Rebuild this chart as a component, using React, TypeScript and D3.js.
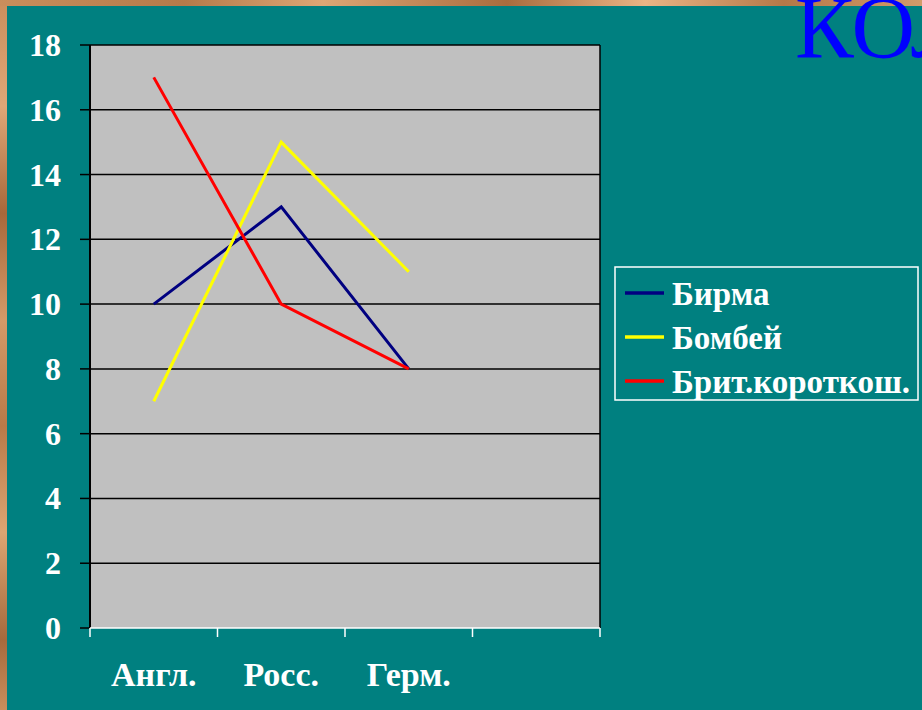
import React, { useEffect, useRef } from "react";
import * as d3 from "d3";

const categories = ["Англ.", "Росс.", "Герм.", ""];
const seriesNames = ["Бирма", "Бомбей", "Брит.короткош."];
const birma = [10, 13, 8];
const bombey = [7, 15, 11];
const brit = [17, 10, 8];
const seriesColors = ["#000080", "#FFFF00", "#FF0000"];
const yTicks = [0, 2, 4, 6, 8, 10, 12, 14, 16, 18];
const titleText = "КОЛ";

const W = 922;
const H = 710;
const FONT = "'Liberation Serif', 'Times New Roman', serif";

export default function App() {
  const ref = useRef<SVGSVGElement>(null);

  useEffect(() => {
    const svg = d3.select(ref.current);
    svg.selectAll("*").remove();

    const defs = svg.append("defs");
    const gl = defs.append("linearGradient").attr("id", "woodV").attr("x1", 0).attr("y1", 0).attr("x2", 0).attr("y2", 1);
    [["0", "#c98e5c"], ["0.15", "#e0a777"], ["0.3", "#a8683a"], ["0.45", "#d49a68"], ["0.6", "#b97a48"], ["0.75", "#dca572"], ["0.9", "#a66a3c"], ["1", "#c98e5c"]].forEach(([o, c]) =>
      gl.append("stop").attr("offset", o).attr("stop-color", c));
    const gt = defs.append("linearGradient").attr("id", "woodH").attr("x1", 0).attr("y1", 0).attr("x2", 1).attr("y2", 0);
    [["0", "#c98e5c"], ["0.2", "#b57a4a"], ["0.35", "#dda675"], ["0.55", "#a96c3e"], ["0.7", "#eab485"], ["0.85", "#b47848"], ["1", "#d29b6a"]].forEach(([o, c]) =>
      gt.append("stop").attr("offset", o).attr("stop-color", c));

    svg.append("rect").attr("width", W).attr("height", H).attr("fill", "#008080");
    svg.append("rect").attr("x", 0).attr("y", 0).attr("width", 7).attr("height", H).attr("fill", "url(#woodV)");
    svg.append("rect").attr("x", 0).attr("y", 0).attr("width", W).attr("height", 6).attr("fill", "url(#woodH)");

    const left = 90, right = 600, top = 45, bottom = 628;
    const x = d3.scaleBand<string>().domain(categories.map((c, i) => c + "#" + i)).range([left, right]);
    const y = d3.scaleLinear().domain([0, 18]).range([bottom, top]);

    svg.append("rect").attr("x", left).attr("y", top).attr("width", right - left).attr("height", bottom - top).attr("fill", "#C0C0C0");

    // gridlines
    svg.append("g").selectAll("line").data(yTicks.filter(t => t > 0)).join("line")
      .attr("x1", left).attr("x2", right).attr("y1", d => y(d)).attr("y2", d => y(d))
      .attr("stroke", "#000").attr("stroke-width", 1.5);
    // right border
    svg.append("line").attr("x1", right).attr("x2", right).attr("y1", top).attr("y2", bottom).attr("stroke", "#000").attr("stroke-width", 1.5);

    // y axis
    svg.append("line").attr("x1", left).attr("x2", left).attr("y1", top).attr("y2", bottom).attr("stroke", "#000").attr("stroke-width", 2);
    svg.append("g").selectAll("line").data(yTicks).join("line")
      .attr("x1", left - 10).attr("x2", left).attr("y1", d => y(d)).attr("y2", d => y(d))
      .attr("stroke", "#000").attr("stroke-width", 1.5);
    svg.append("g").selectAll("text").data(yTicks).join("text")
      .attr("x", 61).attr("y", d => y(d) + 11)
      .attr("text-anchor", "end").attr("fill", "#fff")
      .attr("font-family", FONT)
      .attr("font-weight", "bold").attr("font-size", 32)
      .text(d => String(d));

    // x axis
    svg.append("line").attr("x1", left).attr("x2", right).attr("y1", bottom).attr("y2", bottom).attr("stroke", "#fff").attr("stroke-width", 1.5);
    const xEdges = x.domain().map(d => x(d) as number).concat([right]);
    svg.append("g").selectAll("line").data(xEdges).join("line")
      .attr("x1", d => d).attr("x2", d => d).attr("y1", bottom).attr("y2", bottom + 9)
      .attr("stroke", "#fff").attr("stroke-width", 1.5);
    svg.append("g").selectAll("text").data(x.domain()).join("text")
      .attr("x", d => (x(d) as number) + x.bandwidth() / 2).attr("y", 686)
      .attr("text-anchor", "middle").attr("fill", "#fff")
      .attr("font-family", FONT)
      .attr("font-weight", "bold").attr("font-size", 34)
      .text(d => d.split("#")[0]);

    // lines
    const allSeries = [birma, bombey, brit];
    const lineGen = d3.line<number>()
      .x((_, i) => (x(x.domain()[i]) as number) + x.bandwidth() / 2)
      .y(d => y(d));
    allSeries.forEach((s, k) => {
      svg.append("path").attr("d", lineGen(s)).attr("fill", "none")
        .attr("stroke", seriesColors[k]).attr("stroke-width", 3).attr("stroke-linejoin", "miter");
    });

    // legend
    svg.append("rect").attr("x", 615).attr("y", 267).attr("width", 303).attr("height", 133)
      .attr("fill", "none").attr("stroke", "#fff").attr("stroke-width", 1.5);
    seriesNames.forEach((name, k) => {
      const cy = 293 + k * 44;
      svg.append("line").attr("x1", 625).attr("x2", 664).attr("y1", cy).attr("y2", cy)
        .attr("stroke", seriesColors[k]).attr("stroke-width", 3.5);
      svg.append("text").attr("x", 672).attr("y", cy + 12)
        .attr("fill", "#fff").attr("font-family", FONT)
        .attr("font-weight", "bold").attr("font-size", 33).text(name);
    });

    // title (cut off by the page edge)
    svg.append("text").attr("x", 795).attr("y", 57).attr("fill", "#0000FF")
      .attr("font-family", FONT)
      .attr("font-size", 88).text(titleText);
  }, []);

  return (
    <div style={{ position: "absolute", left: 0, top: 0, width: W, height: H, overflow: "hidden" }}>
      <svg ref={ref} width={W} height={H} style={{ display: "block" }} />
    </div>
  );
}
